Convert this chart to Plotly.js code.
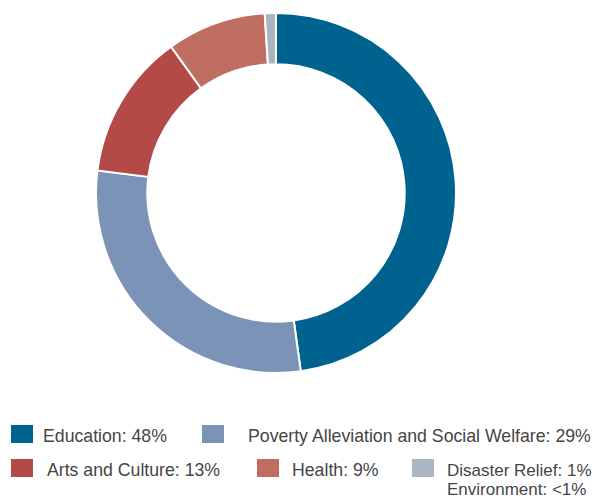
<!DOCTYPE html>
<html>
<head>
<meta charset="utf-8">
<script src="https://cdn.plot.ly/plotly-3.0.1.min.js"></script>
<style>html,body{margin:0;padding:0;background:#fff;}#chart{width:595px;height:499px;}</style>
</head>
<body>
<div id="chart"></div>
<script>
// Data
var categories = ["Education", "Poverty Alleviation and Social Welfare", "Arts and Culture", "Health", "Disaster Relief", "Environment"];
var values = [47.8, 29.2, 13.1, 8.9, 1.0, 0];
var legendLabels = ["Education: 48%", "Poverty Alleviation and Social Welfare: 29%", "Arts and Culture: 13%", "Health: 9%", "Disaster Relief: 1%", "Environment: <1%"];
var colors = ["#00628f", "#7a93b6", "#b34a48", "#c06e62", "#a9b5c3", "#a9b5c3"];

var W = 595, H = 499;
function px(x) { return x / W; }
function py(y) { return 1 - y / H; }

// Legend layout (pixel positions of square and text)
var legendPos = [
  {sx: 11, sy: 425, tx: 41, ty: 436, box: true, fs: 17.7},
  {sx: 202, sy: 425, tx: 246, ty: 436, box: true, fs: 17.7},
  {sx: 11, sy: 459, tx: 45, ty: 470, box: true, fs: 17.7},
  {sx: 257, sy: 459, tx: 290, ty: 470, box: true, fs: 17.7},
  {sx: 412, sy: 459, tx: 445, ty: 470, box: true, fs: 17},
  {sx: 412, sy: 479, tx: 445, ty: 489, box: false, fs: 17}
];

var shapes = [], annotations = [];
legendPos.forEach(function (p, i) {
  if (p.box) {
    shapes.push({type: "rect", xref: "paper", yref: "paper",
      x0: px(p.sx), x1: px(p.sx + 22), y0: py(p.sy + 18), y1: py(p.sy),
      fillcolor: colors[i], line: {width: 0}});
  }
  annotations.push({xref: "paper", yref: "paper", x: px(p.tx), y: py(p.ty),
    xanchor: "left", yanchor: "middle", showarrow: false, text: legendLabels[i],
    font: {family: "Liberation Sans, Arial, sans-serif", size: p.fs, color: "#454545"}});
});

var trace = {
  type: "pie",
  labels: categories,
  values: values,
  hole: 0.715,
  sort: false,
  direction: "clockwise",
  rotation: 0,
  textinfo: "none",
  hoverinfo: "label+percent",
  marker: {colors: colors, line: {color: "#ffffff", width: 2}},
  domain: {x: [px(96), px(456)], y: [py(373), py(13)]},
  showlegend: false
};

var layout = {
  width: W, height: H,
  margin: {l: 0, r: 0, t: 0, b: 0},
  paper_bgcolor: "#ffffff",
  plot_bgcolor: "#ffffff",
  showlegend: false,
  shapes: shapes,
  annotations: annotations
};

Plotly.newPlot("chart", [trace], layout, {displayModeBar: false, staticPlot: true});
</script>
</body>
</html>
